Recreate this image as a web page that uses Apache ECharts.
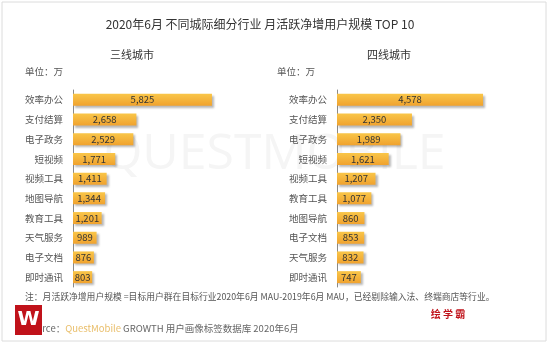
<!DOCTYPE html>
<html><head><meta charset="utf-8">
<script src="https://cdn.jsdelivr.net/npm/echarts@6/dist/echarts.min.js"></script>
<style>html,body{margin:0;padding:0;background:#fff}#c{width:549px;height:344px}</style>
</head><body><div id="c"></div>
<script>
const title = '2020年6月 不同城际细分行业 月活跃净增用户规模 TOP 10';
const leftTitle = '三线城市';
const rightTitle = '四线城市';
const unitLabel = '单位：万';
const leftCats = ['效率办公','支付结算','电子政务','短视频','视频工具','地图导航','教育工具','天气服务','电子文档','即时通讯'];
const leftVals = [5825,2658,2529,1771,1411,1344,1201,989,876,803];
const rightCats = ['效率办公','支付结算','电子政务','短视频','视频工具','教育工具','地图导航','电子文档','天气服务','即时通讯'];
const rightVals = [4578,2350,1989,1621,1207,1077,860,853,832,747];
const note = '注：月活跃净增用户规模 =目标用户群在目标行业2020年6月 MAU-2019年6月 MAU，已经剔除输入法、终端商店等行业。';

const font = '"Noto Sans CJK SC", sans-serif';
const chart = echarts.init(document.getElementById('c'));
const barColor = new echarts.graphic.LinearGradient(0,0,0,1,[
  {offset:0,color:'#f9c649'},{offset:1,color:'#f0a22e'}]);
function fmt(v){return v.toLocaleString('en-US');}
function yAxis(idx, cats){
  return {type:'category', gridIndex:idx, data:cats, inverse:true,
    axisLine:{show:true,lineStyle:{color:'#8a8a8a',width:1}},
    axisTick:{show:false},
    axisLabel:{color:'#555',fontSize:9.5,fontFamily:font,margin:10}};
}
function xAxis(idx, max){
  return {type:'value', gridIndex:idx, min:0, max:max, show:false, splitLine:{show:false}};
}
function series(idx, vals){
  return {type:'bar', xAxisIndex:idx, yAxisIndex:idx, data:vals, barWidth:12,
    itemStyle:{color:barColor, shadowColor:'rgba(0,0,0,0.28)', shadowBlur:2, shadowOffsetX:2, shadowOffsetY:2},
    label:{show:true, position:'inside', color:'#333', fontSize:9.5, fontFamily:font,
      formatter:p=>fmt(p.value)}};
}
chart.setOption({
  animation:false,
  backgroundColor:'#fff',
  grid:[{left:73, top:90, width:167, height:197},
        {left:337, top:90, width:159.5, height:197}],
  xAxis:[xAxis(0,7000), xAxis(1,5000)],
  yAxis:[yAxis(0,leftCats), yAxis(1,rightCats)],
  series:[series(0,leftVals), series(1,rightVals)],
  graphic:[
    {type:'rect', shape:{x:2,y:2,width:544,height:339}, style:{fill:'none',stroke:'#dcdcdc',lineWidth:1}, z:-1},
    {type:'text', left:'center', top:130, style:{text:'QUESTMOBILE', fill:'#f5f5f5', font:'50px "Open Sans", sans-serif'}, z:-1},
    {type:'text', x:260, y:24, style:{text:title, fill:'#333', font:'12px '+font, textAlign:'center', textVerticalAlign:'middle'}},
    {type:'text', x:132, y:55, style:{text:leftTitle, fill:'#333', font:'11px '+font, textAlign:'center', textVerticalAlign:'middle'}},
    {type:'text', x:389, y:55, style:{text:rightTitle, fill:'#333', font:'11px '+font, textAlign:'center', textVerticalAlign:'middle'}},
    {type:'text', x:25, y:71, style:{text:unitLabel, fill:'#555', font:'9.5px '+font, textVerticalAlign:'middle'}},
    {type:'text', x:277, y:71, style:{text:unitLabel, fill:'#555', font:'9.5px '+font, textVerticalAlign:'middle'}},
    {type:'text', x:25, y:297, style:{text:note, fill:'#555', font:'8.8px '+font, textVerticalAlign:'middle'}},
    {type:'text', x:25, y:328, style:{rich:{a:{fill:'#666',font:'9.5px '+font},b:{fill:'#e9be6a',font:'9.5px '+font}},
      text:'{a|Source：}{b|QuestMobile }{a|GROWTH 用户画像标签数据库 2020年6月}', textVerticalAlign:'middle'}},
    {type:'rect', shape:{x:15,y:305,width:27,height:30}, style:{fill:'#c0121a'}},
    {type:'text', x:28.5, y:320, style:{text:'W', fill:'#fff', font:'bold 20px "DejaVu Sans", sans-serif', textAlign:'center', textVerticalAlign:'middle'}},
    {type:'text', x:448, y:314, style:{text:'绘 学 霸', fill:'#c0121a', font:'bold 10px '+font, textAlign:'center', textVerticalAlign:'middle'}}
  ]
});
</script></body></html>
